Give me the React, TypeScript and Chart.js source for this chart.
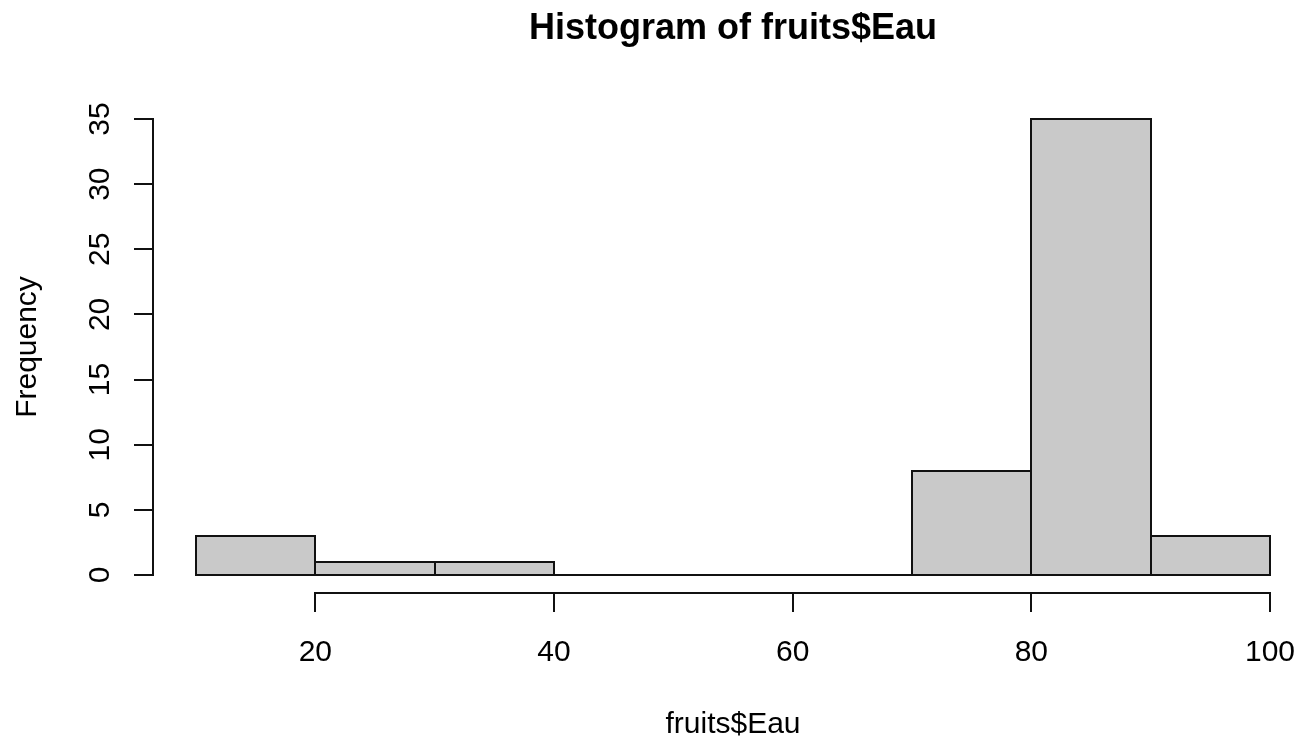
import React, { useEffect, useRef } from "react";
import { Chart, registerables } from "chart.js";

Chart.register(...registerables);

const binBreaks = [10, 20, 30, 40, 50, 60, 70, 80, 90, 100];
const counts = [3, 1, 1, 0, 0, 0, 8, 35, 3];
const xTickValues = [20, 40, 60, 80, 100];
const yTickValues = [0, 5, 10, 15, 20, 25, 30, 35];
const titleText = "Histogram of fruits$Eau";
const xLabelText = "fruits$Eau";
const yLabelText = "Frequency";

const FONT = '"Liberation Sans", Arial, Helvetica, sans-serif';
const INK = "#111111";

const rBasePlugin = {
  id: "rBase",
  afterDatasetsDraw(chart: any) {
    const { ctx } = chart;
    const xs = chart.scales.x;
    const ys = chart.scales.y;
    const xMin = binBreaks[0];
    const xMax = binBreaks[binBreaks.length - 1];
    const yMax = Math.max(...yTickValues);
    const xPad = (xMax - xMin) * 0.04;
    const yPad = yMax * 0.04;
    const regionLeft = xs.getPixelForValue(xMin - xPad);
    const regionRight = xs.getPixelForValue(xMax + xPad);
    const regionBottom = ys.getPixelForValue(-yPad);
    const regionTop = ys.getPixelForValue(yMax + yPad);

    ctx.save();
    // bar outlines (centered strokes, like R)
    const meta = chart.getDatasetMeta(0);
    ctx.strokeStyle = INK;
    ctx.lineWidth = 2;
    ctx.lineJoin = "miter";
    meta.data.forEach((el: any) => {
      const p = el.getProps(["x", "y", "base", "width"], true);
      const l = Math.round(p.x - p.width / 2);
      const r = Math.round(p.x + p.width / 2);
      const top = Math.round(Math.min(p.y, p.base));
      const bottom = Math.round(Math.max(p.y, p.base));
      ctx.strokeRect(l, top, r - l, bottom - top);
    });

    // y axis
    const yAxisX = Math.round(regionLeft);
    ctx.beginPath();
    ctx.moveTo(yAxisX, Math.round(ys.getPixelForValue(yTickValues[0])));
    ctx.lineTo(yAxisX, Math.round(ys.getPixelForValue(yTickValues[yTickValues.length - 1])));
    yTickValues.forEach((v) => {
      const py = Math.round(ys.getPixelForValue(v));
      ctx.moveTo(yAxisX + 1, py);
      ctx.lineTo(yAxisX - 19, py);
    });
    ctx.stroke();

    // x axis
    const xAxisY = Math.round(regionBottom);
    ctx.beginPath();
    ctx.moveTo(Math.round(xs.getPixelForValue(xTickValues[0])), xAxisY);
    ctx.lineTo(Math.round(xs.getPixelForValue(xTickValues[xTickValues.length - 1])), xAxisY);
    xTickValues.forEach((v) => {
      const px = Math.round(xs.getPixelForValue(v));
      ctx.moveTo(px, xAxisY - 1);
      ctx.lineTo(px, xAxisY + 19);
    });
    ctx.stroke();

    ctx.fillStyle = "#000";
    ctx.font = `30px ${FONT}`;
    ctx.textAlign = "center";
    ctx.textBaseline = "alphabetic";
    xTickValues.forEach((v) => {
      ctx.fillText(String(v), xs.getPixelForValue(v), xAxisY + 68);
    });
    yTickValues.forEach((v) => {
      ctx.save();
      ctx.translate(yAxisX - 44.5, ys.getPixelForValue(v));
      ctx.rotate(-Math.PI / 2);
      ctx.fillText(String(v), 0, 0);
      ctx.restore();
    });

    const cx = (regionLeft + regionRight) / 2;
    const cy = (regionTop + regionBottom) / 2;
    ctx.fillText(xLabelText, cx, 733);
    ctx.save();
    ctx.translate(36, cy);
    ctx.rotate(-Math.PI / 2);
    ctx.fillText(yLabelText, 0, 0);
    ctx.restore();

    ctx.font = `bold 36px ${FONT}`;
    ctx.fillText(titleText, cx, 39);
    ctx.restore();
  },
};

export default function App() {
  const canvasRef = useRef<HTMLCanvasElement | null>(null);

  useEffect(() => {
    const canvas = canvasRef.current;
    if (!canvas) return;
    const points = counts.map((c, i) => ({ x: (binBreaks[i] + binBreaks[i + 1]) / 2, y: c }));
    const chart = new Chart(canvas, {
      type: "bar",
      data: {
        datasets: [
          {
            data: points as any,
            backgroundColor: "#c9c9c9",
            borderWidth: 0,
            barPercentage: 1,
            categoryPercentage: 1,
          },
        ],
      },
      options: {
        responsive: false,
        animation: false,
        devicePixelRatio: 1,
        layout: { padding: { left: 196, right: 30, top: 119, bottom: 165 } },
        plugins: {
          legend: { display: false },
          tooltip: { enabled: false },
          title: { display: false },
        },
        scales: {
          x: {
            type: "linear",
            offset: false,
            min: binBreaks[0],
            max: binBreaks[binBreaks.length - 1],
            display: false,
            ticks: { stepSize: 10 },
          },
          y: {
            type: "linear",
            min: 0,
            max: Math.max(...yTickValues),
            display: false,
          },
        },
      },
      plugins: [rBasePlugin],
    });
    return () => chart.destroy();
  }, []);

  return (
    <div style={{ position: "fixed", left: 0, top: 0, width: 1300, height: 740, background: "#fff" }}>
      <canvas ref={canvasRef} width={1300} height={740} style={{ display: "block" }} />
    </div>
  );
}
